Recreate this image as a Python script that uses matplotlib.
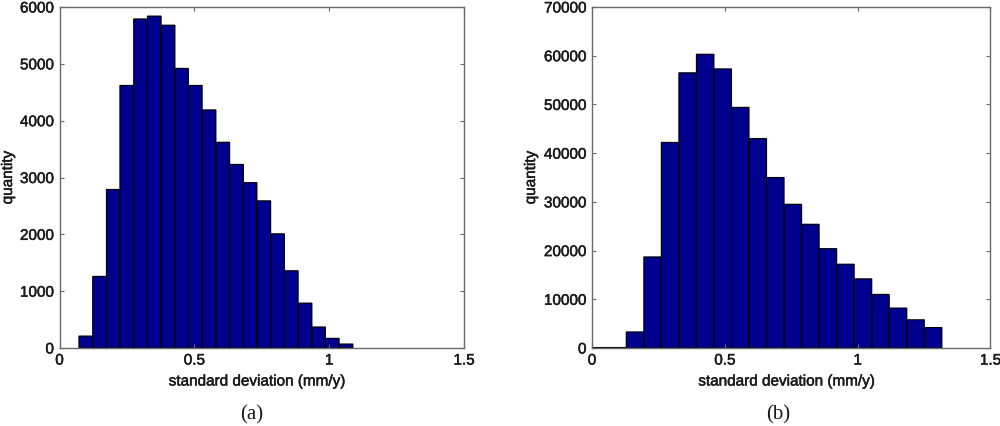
import matplotlib
matplotlib.use("Agg")
import matplotlib.pyplot as plt
import matplotlib.patheffects as pe

# left panel
edges_a = [0.072, 0.123, 0.174, 0.224, 0.275, 0.326, 0.377, 0.428, 0.478, 0.529, 0.580, 0.631,
           0.682, 0.732, 0.783, 0.834, 0.885, 0.936, 0.986, 1.037, 1.088]
counts_a = [210, 1260, 2790, 4620, 5790, 5840, 5680, 4920, 4620, 4190, 3620, 3230,
            2910, 2590, 2010, 1360, 790, 370, 170, 70]

# right panel
edges_b = [0.0, 0.063, 0.129, 0.195, 0.261, 0.327, 0.393, 0.459, 0.525, 0.591, 0.657, 0.723,
           0.789, 0.855, 0.921, 0.987, 1.053, 1.119, 1.185, 1.251, 1.317]
counts_b = [100, 100, 3300, 18700, 42200, 56500, 60300, 57300, 49400, 43000, 35000, 29500,
            25400, 20400, 17200, 14200, 11000, 8200, 5800, 4200]

xticks = [0, 0.5, 1, 1.5]
xticklabels = ["0", "0.5", "1", "1.5"]
yticks_a = [0, 1000, 2000, 3000, 4000, 5000, 6000]
yticks_b = [0, 10000, 20000, 30000, 40000, 50000, 60000, 70000]

plt.rcParams["font.family"] = "Liberation Sans"

fig = plt.figure(figsize=(10, 4.26), dpi=100)
W, H = 1000.0, 426.0
GREY = "#6a6a6a"
TEXT = "#1a1a1a"
# the scan makes the text a bit heavier than the regular weight
heavier = [pe.withStroke(linewidth=0.35, foreground=TEXT)]


def draw_hist(box, edges, counts, yticks, ylim, tag, tag_x, ylabel_x):
    left, top, right, bottom = box
    ax = fig.add_axes([left / W, 1 - bottom / H, (right - left) / W, (bottom - top) / H])
    widths = [b - a for a, b in zip(edges[:-1], edges[1:])]
    # fills first, outlines on top, otherwise neighbours hide the shared edges
    ax.bar(edges[:-1], counts, width=widths, align="edge", color="#00008f", linewidth=0)
    outlines = ax.bar(edges[:-1], counts, width=widths, align="edge", fill=False,
                      edgecolor="black", linewidth=0.8)
    for r in outlines:
        r.set_snap(False)
    ax.set_xlim(0, 1.5)
    ax.set_ylim(0, ylim)
    ax.set_xticks(xticks)
    ax.set_xticklabels(xticklabels)
    ax.set_yticks(yticks)
    ax.tick_params(direction="in", length=3, width=0.8, color=GREY, labelsize=11,
                   labelcolor=TEXT, top=True, right=True, pad=4)
    for s in ax.spines.values():
        s.set_linewidth(1.0)
        s.set_color(GREY)
    ax.set_xlabel("standard deviation (mm/y)", fontsize=11, color=TEXT)
    ax.set_ylabel("quantity", fontsize=11, color=TEXT)
    ax.xaxis.set_label_coords(0.488, -(381.5 - bottom) / (bottom - top))
    ax.xaxis.label.set_va("center")
    ax.yaxis.set_label_coords((ylabel_x - left) / (right - left), 0.5)
    ax.yaxis.label.set_va("center")
    for t in ax.get_xticklabels() + ax.get_yticklabels() + [ax.xaxis.label, ax.yaxis.label]:
        t.set_path_effects(heavier)
    fig.text(tag_x / W, 1 - 415 / H, tag, family="Liberation Serif", fontsize=15,
             ha="center", va="center", color=TEXT)
    return ax


draw_hist((59.5, 7, 464, 348), edges_a, counts_a, yticks_a, 6000, "(a)", 252, 8)
draw_hist((592, 7, 990.5, 348), edges_b, counts_b, yticks_b, 70000, "(b)", 778, 531)

fig.savefig("out.png", dpi=100)
